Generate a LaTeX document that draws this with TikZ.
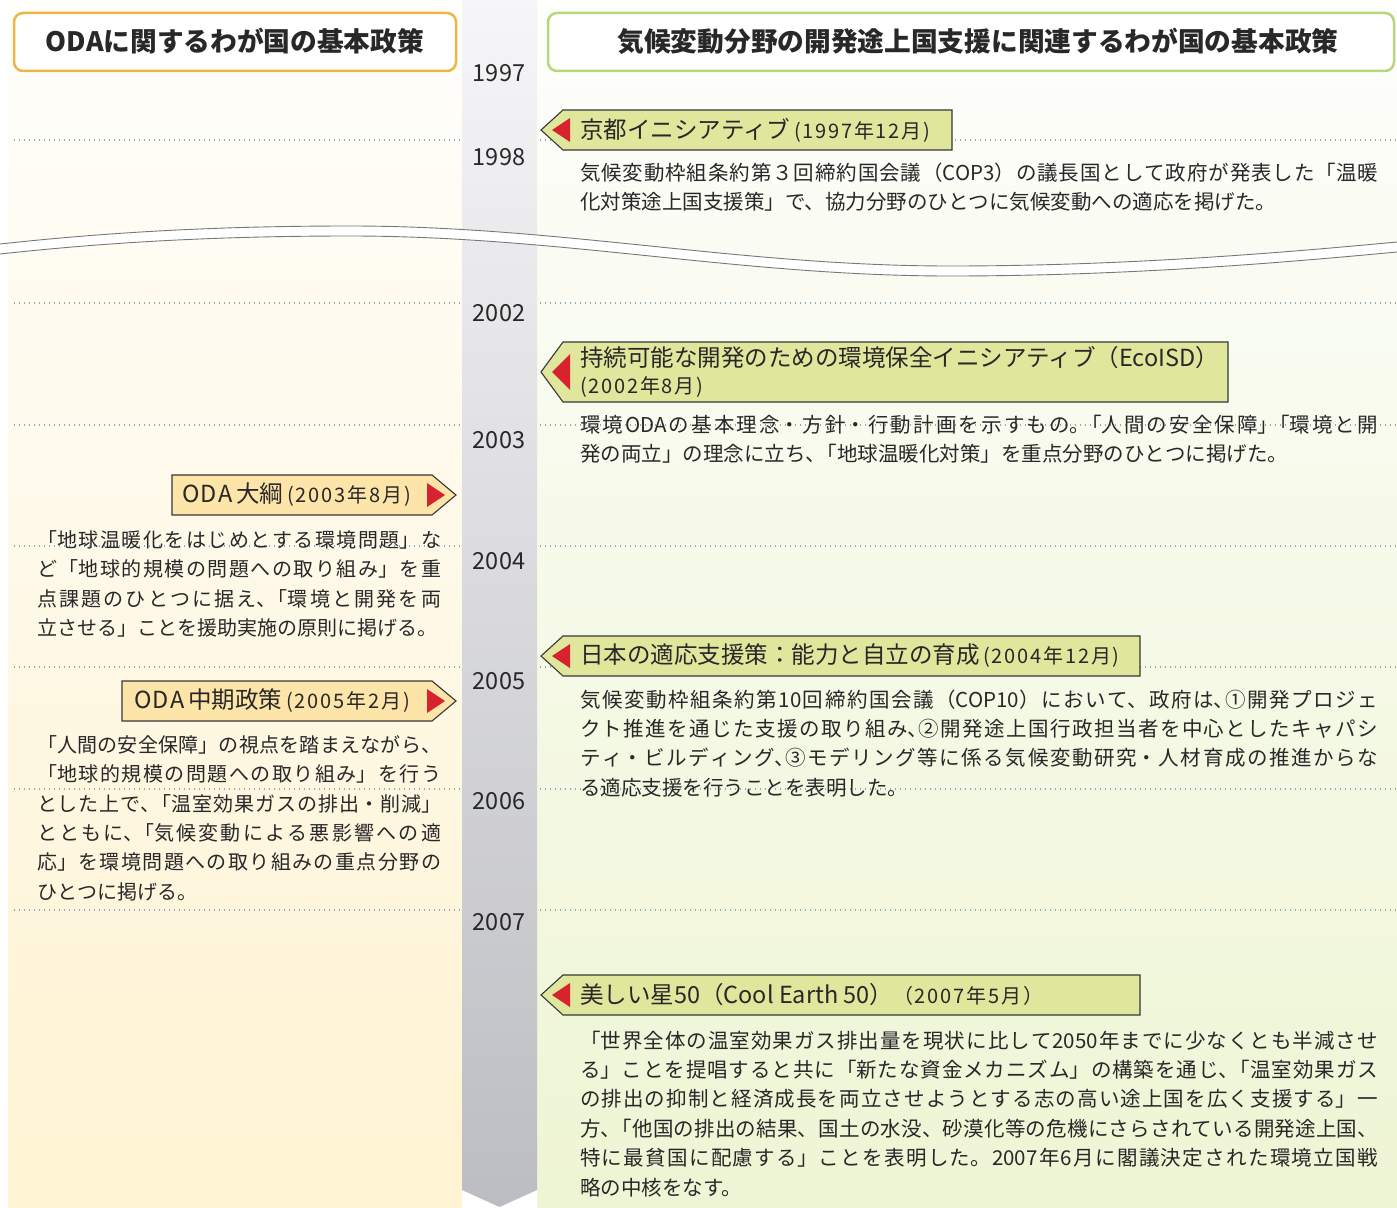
\documentclass[tikz,border=0pt]{standalone}
\usepackage{fontspec}
\setmainfont{Noto Sans CJK JP}
\XeTeXlinebreaklocale "ja"
\XeTeXlinebreakskip=0pt plus 4pt
\definecolor{txt}{RGB}{40,40,40}
\definecolor{orgb}{RGB}{236,183,72}
\definecolor{grnb}{RGB}{183,215,125}
\definecolor{leftbot}{RGB}{254,243,210}
\definecolor{rightbot}{RGB}{238,245,212}
\definecolor{bartop}{RGB}{246,246,248}
\definecolor{barbot}{RGB}{188,189,194}
\definecolor{lblG}{RGB}{224,230,156}
\definecolor{lblO}{RGB}{253,228,168}
\definecolor{arrred}{RGB}{214,35,45}
\definecolor{dotc}{RGB}{135,170,185}
\definecolor{flagline}{RGB}{55,55,55}
\definecolor{waveline}{RGB}{120,120,120}
\newcommand{\datefont}{\fontsize{20}{24}\selectfont\addfontfeatures{LetterSpace=9}}
\newcommand{\pkern}{\kern-0.45em}
\newcommand{\pointleft}[3]{% top, bottom, right x
  \path[flagG] (541,{(#1+#2)/2}) -- (563,#1) -- (#3,#1) -- (#3,#2) -- (563,#2) -- cycle;
  \fill[arrred] (552,{(#1+#2)/2}) -- (570,{(#1+#2)/2-(#2-#1)*0.3}) -- (570,{(#1+#2)/2+(#2-#1)*0.3}) -- cycle;
}
\newcommand{\pointright}[3]{% top, bottom, left x
  \path[flagO] (#3,#1) -- (432,#1) -- (456,{(#1+#2)/2}) -- (432,#2) -- (#3,#2) -- cycle;
  \fill[arrred] (427,{(#1+#2)/2-12}) -- (445,{(#1+#2)/2}) -- (427,{(#1+#2)/2+12}) -- cycle;
}
\begin{document}
\begin{tikzpicture}[x=1pt,y=-1pt,
  every node/.style={inner sep=0pt, outer sep=0pt, text=txt},
  header/.style={rounded corners=9pt, line width=2.5pt, fill=white, minimum height=58pt},
  hdrtxt/.style={font=\bfseries\fontsize{26.7}{30}\selectfont},
  yearlbl/.style={font=\fontsize{23.5}{26}\selectfont},
  body/.style={anchor=base west, align=justify, font=\fontsize{20.5}{29.4}\selectfont},
  lbody/.style={anchor=base west, align=justify, font=\fontsize{20}{29.3}\selectfont},
  flagG/.style={fill=lblG, draw=flagline, line width=1.1pt},
  flagO/.style={fill=lblO, draw=flagline, line width=1.1pt},
  flagtxt/.style={anchor=west, font=\fontsize{23.5}{28}\selectfont},
  datetxt/.style={font=\datefont},
  dotline/.style={draw=dotc, line width=1.3pt, dash pattern=on 1.3pt off 3.7pt},
  wave/.style={draw=waveline, line width=0.9pt}
]
\useasboundingbox (0,0) rectangle (1397,1207);
\fill[white] (0,0) rectangle (1397,1207);
% column backgrounds
\shade[top color=leftbot!8, bottom color=leftbot] (8,0) rectangle (462,1207);
\shade[top color=rightbot!8, bottom color=rightbot] (537,0) rectangle (1397,1207);
% timeline bar
\shade[top color=bartop, bottom color=barbot] (462,0) -- (537,0) -- (537,1190) -- (499.5,1207) -- (462,1190) -- cycle;
% wave break
\fill[white] (0,244) .. controls (110,232) and (220,226) .. (350,226) .. controls (560,226) and (740,266) .. (950,266) .. controls (1130,266) and (1290,252) .. (1397,242)
  -- (1397,252) .. controls (1290,262) and (1130,276) .. (950,276) .. controls (740,276) and (560,236) .. (350,236) .. controls (220,236) and (110,242) .. (0,254) -- cycle;
\draw[wave] (0,244) .. controls (110,232) and (220,226) .. (350,226) .. controls (560,226) and (740,266) .. (950,266) .. controls (1130,266) and (1290,252) .. (1397,242);
\draw[wave] (0,254) .. controls (110,242) and (220,236) .. (350,236) .. controls (560,236) and (740,276) .. (950,276) .. controls (1130,276) and (1290,262) .. (1397,252);
% dotted year lines
\foreach \yy in {140,303,425,546,667,789,910}{
  \draw[dotline] (14,\yy) -- (462,\yy);
  \draw[dotline] (540,\yy) -- (1397,\yy);
}
% headers
\node[header, draw=orgb, minimum width=442pt] (hdrL) at (235,42) {};
\node[hdrtxt] (hdrLt) at (235,41) {ODAに関するわが国の基本政策};
\node[header, draw=grnb, minimum width=846pt] (hdrR) at (971,42) {};
\node[hdrtxt] (hdrRt) at (978,41) {気候変動分野の開発途上国支援に関連するわが国の基本政策};
% years
\node[yearlbl] (y1997) at (499,73) {1997};
\node[yearlbl] (y1998) at (499,157) {1998};
\node[yearlbl] (y2002) at (499,313) {2002};
\node[yearlbl] (y2003) at (499,440) {2003};
\node[yearlbl] (y2004) at (499,561) {2004};
\node[yearlbl] (y2005) at (499,681) {2005};
\node[yearlbl] (y2006) at (499,801) {2006};
\node[yearlbl] (y2007) at (499,922) {2007};
% right flags
\pointleft{110}{150}{952}
\node[flagtxt] (f1997) at (580,130) {京都イニシアティブ\,{\datefont(1997年12月)}};
\pointleft{342}{402}{1228}
\node[flagtxt] (f2002a) at (580,358) {持続可能な開発のための環境保全イニシアティブ（EcoISD）};
\node[flagtxt, datetxt] (f2002b) at (580,387) {(2002年8月)};
\pointleft{636}{676}{1140}
\node[flagtxt] (f2004) at (580,656) {日本の適応支援策：能力と自立の育成\,{\datefont(2004年12月)}};
\pointleft{975}{1015}{1140}
\node[flagtxt] (f2007) at (580,995) {美しい星50（Cool Earth 50）{\datefont（2007年5月）}};
% left flags
\pointright{475}{515}{172}
\node[flagtxt] (f2003) at (182,495) {{\addfontfeatures{LetterSpace=6}ODA}\kern4pt 大綱\,{\datefont(2003年8月)}};
\pointright{681}{721}{122}
\node[flagtxt] (f2005) at (134,701) {{\addfontfeatures{LetterSpace=6}ODA}\kern4pt 中期政策\,{\datefont(2005年2月)}};
% right body texts
\node[body, text width=798pt] (t1998) at (580,180) {気候変動枠組条約第３回締約国会議（COP3）の議長国として政府が発表した「温暖\linebreak 化対策途上国支援策」で、協力分野のひとつに気候変動への適応を掲げた。};
\node[body, text width=798pt] (t2002) at (580,432) {環境ODAの基本理念・方針・行動計画を示すもの。\pkern「人間の安全保障」\pkern「環境と開\linebreak 発の両立」の理念に立ち、\pkern「地球温暖化対策」を重点分野のひとつに掲げた。};
\node[body, text width=798pt] (t2004) at (580,707) {気候変動枠組条約第10回締約国会議（COP10）において、政府は、\pkern①開発プロジェ\linebreak クト推進を通じた支援の取り組み、\pkern②開発途上国行政担当者を中心としたキャパシ\linebreak ティ・ビルディング、\pkern③モデリング等に係る気候変動研究・人材育成の推進からな\linebreak る適応支援を行うことを表明した。};
\node[body, text width=798pt] (t2007) at (580,1048) {「世界全体の温室効果ガス排出量を現状に比して2050年までに少なくとも半減させ\linebreak る」ことを提唱すると共に「新たな資金メカニズム」の構築を通じ、\pkern「温室効果ガス\linebreak の排出の抑制と経済成長を両立させようとする志の高い途上国を広く支援する」一\linebreak 方、\pkern「他国の排出の結果、国土の水没、砂漠化等の危機にさらされている開発途上国、\linebreak 特に最貧国に配慮する」ことを表明した。2007年6月に閣議決定された環境立国戦\linebreak 略の中核をなす。};
% left body texts
\node[lbody, text width=404pt] (t2003) at (37,547.6) {「地球温暖化をはじめとする環境問題」な\linebreak ど「地球的規模の問題への取り組み」を重\linebreak 点課題のひとつに据え、\pkern「環境と開発を両\linebreak 立させる」ことを援助実施の原則に掲げる。};
\node[lbody, text width=404pt] (t2005) at (37,752.6) {「人間の安全保障」の視点を踏まえながら、\linebreak「地球的規模の問題への取り組み」を行う\linebreak とした上で、\pkern「温室効果ガスの排出・削減」\linebreak とともに、\pkern「気候変動による悪影響への適\linebreak 応」を環境問題への取り組みの重点分野の\linebreak ひとつに掲げる。};
\end{tikzpicture}
\end{document}
